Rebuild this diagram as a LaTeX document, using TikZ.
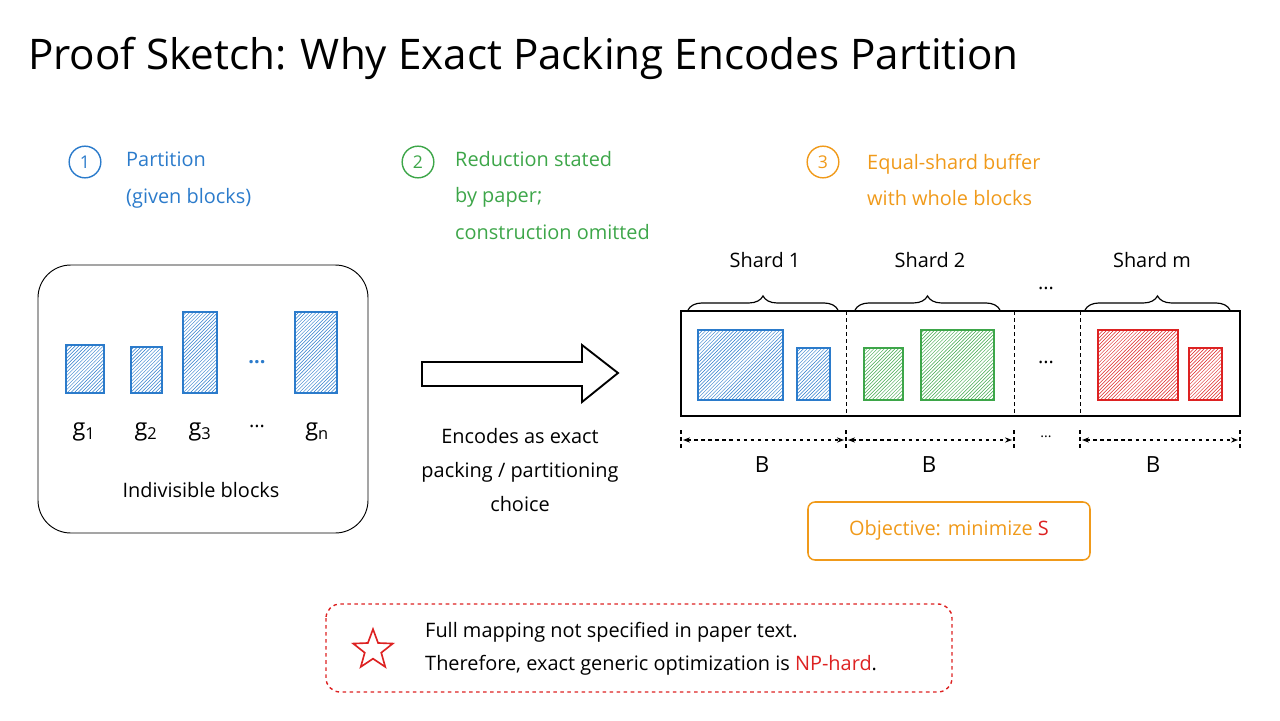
\documentclass[tikz,border=0pt]{standalone}
\usepackage{fontspec}
\setmainfont{Open Sans}
\usetikzlibrary{patterns,decorations.pathreplacing,shapes.geometric,arrows.meta}
\definecolor{pblue}{HTML}{2B7BCB}
\definecolor{pgreen}{HTML}{3DA649}
\definecolor{porange}{HTML}{F09A1A}
\definecolor{pred}{HTML}{DD2222}
\tikzset{
  txt/.style={font=\fontsize{17}{20}\selectfont,inner sep=0pt},
  step/.style={circle,draw=#1,text=#1,line width=1.2pt,minimum size=0.95cm,inner sep=0pt,font=\fontsize{15}{18}\selectfont},
  blk/.style={draw=#1,line width=1.8pt,pattern={north east lines},pattern color=#1},
  dim/.style={dashed,line width=0.9pt,{Stealth[length=6pt]}-{Stealth[length=6pt]}},
  brc/.style={decorate,decoration={brace,amplitude=12pt},line width=1pt}
}
\newcommand{\gsub}[1]{g\textsubscript{#1}}
\begin{document}
\begin{tikzpicture}[x=0.03cm,y=-0.03cm]
		\useasboundingbox (0,0) rectangle (1280,720);
		
		% title
		\node[anchor=west,font=\fontsize{36}{40}\selectfont,inner sep=0pt] (title) at (28,58){Proof Sketch: Why Exact Packing Encodes Partition};
		
		% three steps
		\node[step=pblue] (s1) at (85,162){1};
		\node[txt,anchor=west,text=pblue,align=left] (t1) at (126,180){Partition\\[11pt](given blocks)};
		\node[step=pgreen] (s2) at (418,162){2};
		\node[txt,anchor=north west,text=pgreen,align=left] (t2) at (455,151){Reduction stated\\[11pt]by paper;\\[11pt]construction omitted};
		\node[step=porange] (s3) at (823,162){3};
		\node[txt,anchor=west,text=porange,align=left] (t3) at (867,180){Equal-shard buffer\\[11pt]with whole blocks};
		
		% left box with blocks
		\draw[thick,rounded corners=28pt](38,265) rectangle (368,533);
		\draw[blk=pblue](66,345) rectangle (104,393);
		\draw[blk=pblue](131,347) rectangle (162,393);
		\draw[blk=pblue](183,312) rectangle (217,393);
		\draw[blk=pblue](295,312) rectangle (337,393);
		\node[text=pblue,font=\bfseries\fontsize{17}{20}\selectfont] (dots1) at (257,362){...};
		\node[txt,font=\fontsize{20}{24}\selectfont] (g1) at (84,432){\gsub{1}};
		\node[txt,font=\fontsize{20}{24}\selectfont] (g2) at (146,432){\gsub{2}};
		\node[txt,font=\fontsize{20}{24}\selectfont] (g3) at (200,432){\gsub{3}};
		\node[txt] (gd) at (257,426){...};
		\node[txt,font=\fontsize{20}{24}\selectfont] (gn) at (317,432){\gsub{n}};
		\node[txt] (indiv) at (201,490){Indivisible blocks};
		
		% big arrow
		\draw[line width=1.6pt](422,362)--(582,362)--(582,345)--(618,373)--(582,402)--(582,386)--(422,386)--cycle;
		\node[txt,align=center] (enc) at (520,470){Encodes as exact\\[9pt]packing / partitioning\\[9pt]choice};
		
		% buffer
		\draw[line width=1.3pt](681,311) rectangle (1240,416);
		\draw[dashed,thick](846,311)--(846,416);
		\draw[dashed,thick](1014,311)--(1014,416);
		\draw[dashed,thick](1080,311)--(1080,416);
		\draw[brc](688,310)--(838,310);
		\draw[brc](855,310)--(1000,310);
		\draw[brc](1085,310)--(1230,310);
		\node[txt] (sh1) at (765,260){Shard 1};
		\node[txt] (sh2) at (930,260){Shard 2};
		\node[txt] (shm) at (1152,260){Shard m};
		\node[txt] (dots2) at (1046,288){...};
		\draw[blk=pblue](698,330) rectangle (783,400);
		\draw[blk=pblue](797,348) rectangle (830,400);
		\draw[blk=pgreen](864,348) rectangle (903,400);
		\draw[blk=pgreen](921,330) rectangle (994,400);
		\node[txt] (dots3) at (1046,362){...};
		\draw[blk=pred](1098,330) rectangle (1178,400);
		\draw[blk=pred](1189,348) rectangle (1222,400);
		
		% widths
		\foreach \xx in {681,846,1014,1080,1240}
		  \draw[dashed,line width=0.9pt](\xx,430)--(\xx,450);
		\draw[dim](683,440)--(844,440);
		\draw[dim](848,440)--(1012,440);
		\draw[dim](1082,440)--(1238,440);
		\node[txt,font=\fontsize{12}{14}\selectfont] (dots4) at (1046,437){...};
		\node[txt,font=\fontsize{19}{22}\selectfont] (b1) at (762,465){B};
		\node[txt,font=\fontsize{19}{22}\selectfont] (b2) at (929,465){B};
		\node[txt,font=\fontsize{19}{22}\selectfont] (b3) at (1153,465){B};
		
		% objective
		\draw[porange,line width=1.3pt,rounded corners=6pt](808,502) rectangle (1090,560);
		\node[txt,text=porange] (obj) at (949,530){Objective: minimize \textcolor{pred}{S}};
		
		% bottom note
		\draw[pred,dashed,line width=1.2pt,rounded corners=12pt](326,604) rectangle (952,692);
		\node[star,star points=5,star point ratio=2.4,draw=pred,line width=1.4pt,minimum size=1.25cm,inner sep=0pt] (star) at (373,650){};
		\node[txt,anchor=west,align=left] (note) at (425,649){Full mapping not specified in paper text.\\[8pt]Therefore, exact generic optimization is \textcolor{pred}{NP-hard}.};
		\end{tikzpicture}
\end{document}
